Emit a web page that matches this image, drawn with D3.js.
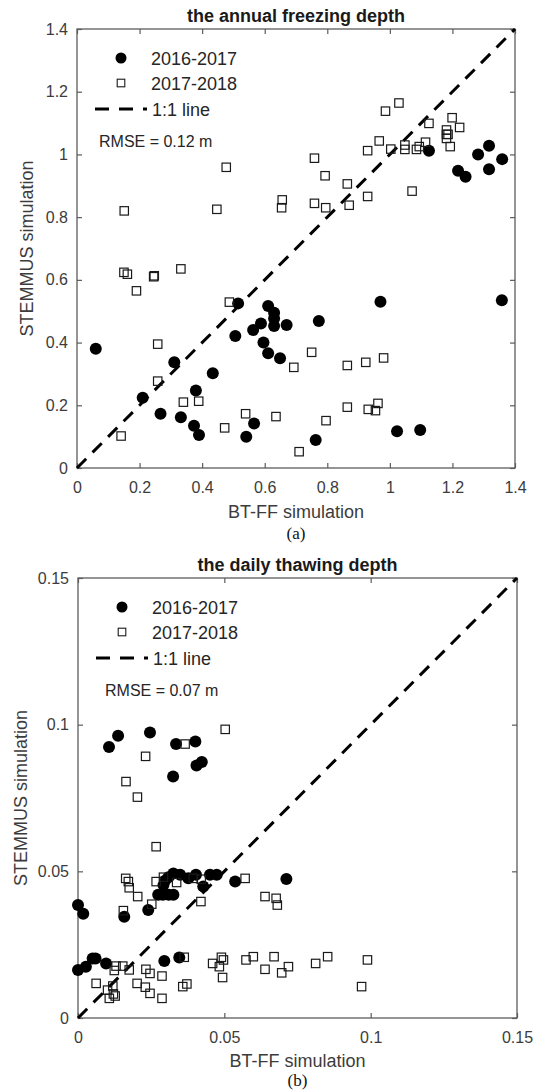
<!DOCTYPE html>
<html>
<head>
<meta charset="utf-8">
<script src="https://cdn.jsdelivr.net/npm/d3@7"></script>
<style>
body { margin: 0; background: #fff; }
text { font-family: "Liberation Sans", Arial, sans-serif; }
</style>
</head>
<body>
<div id="chart"></div>
<script>

// series names and texts
const seriesNames = ["2016-2017", "2017-2018", "1:1 line"];
const titles = ["the annual freezing depth", "the daily thawing depth"];
const rmseTexts = ["RMSE = 0.12 m", "RMSE = 0.07 m"];
const panelLetters = ["(a)", "(b)"];

// ticks
const freezeTicks = [0, 0.2, 0.4, 0.6, 0.8, 1, 1.2, 1.4];
const freezeTickLabels = ["0", "0.2", "0.4", "0.6", "0.8", "1", "1.2", "1.4"];
const thawTicks = [0, 0.05, 0.1, 0.15];
const thawTickLabels = ["0", "0.05", "0.1", "0.15"];

// (a) annual freezing depth, [BT-FF, STEMMUS]
const freeze2016 = [
    [0.06,0.38],[0.21,0.224],[0.267,0.173],[0.311,0.337],[0.332,0.162],[0.374,0.135],
    [0.38,0.247],[0.39,0.105],[0.434,0.302],[0.506,0.421],[0.515,0.525],[0.541,0.10],
    [0.563,0.44],[0.566,0.142],[0.588,0.461],[0.596,0.40],[0.611,0.517],[0.611,0.366],
    [0.63,0.495],[0.63,0.477],[0.63,0.453],[0.649,0.35],[0.67,0.456],[0.763,0.089],
    [0.773,0.469],[0.97,0.53],[1.023,0.117],[1.097,0.121],[1.125,1.012],[1.218,0.948],
    [1.242,0.929],[1.282,1.0],[1.317,1.028],[1.317,0.953],[1.359,0.985],[1.358,0.535]
];
const freeze2017 = [
    [0.141,0.102],[0.15,0.624],[0.151,0.82],[0.161,0.618],[0.19,0.565],[0.245,0.61],
    [0.247,0.613],[0.258,0.395],[0.258,0.277],[0.332,0.635],[0.34,0.21],[0.389,0.213],
    [0.447,0.825],[0.472,0.128],[0.477,0.959],[0.487,0.529],[0.539,0.173],[0.636,0.164],
    [0.654,0.83],[0.656,0.855],[0.693,0.321],[0.71,0.052],[0.75,0.369],[0.759,0.988],
    [0.759,0.844],[0.793,0.932],[0.795,0.83],[0.796,0.151],[0.864,0.906],[0.87,0.838],
    [0.864,0.327],[0.864,0.194],[0.923,0.337],[0.929,1.012],[0.929,0.866],[0.931,0.187],
    [0.954,0.183],[0.962,0.206],[0.966,1.043],[0.98,0.351],[0.986,1.138],[1.003,1.017],
    [1.029,1.164],[1.048,1.03],[1.048,1.016],[1.071,0.883],[1.085,1.016],[1.094,1.025],
    [1.114,1.039],[1.125,1.099],[1.181,1.078],[1.181,1.064],[1.186,1.064],[1.181,1.051],
    [1.193,1.025],[1.199,1.117],[1.223,1.086]
];

// (b) daily thawing depth, [BT-FF, STEMMUS]
const thaw2016 = [
    [0.0106,0.0924],[0.0137,0.0962],[0.0246,0.0973],[0.0325,0.0823],[0.0335,0.0934],
    [0.0401,0.0943],[0.0405,0.0861],[0.0423,0.0873],
    [0,0.0385],[0.0018,0.0355],[0.0158,0.0345],[0.024,0.0368],[0.0274,0.042],[0.029,0.042],
    [0.031,0.042],[0.0326,0.042],[0.0292,0.0453],[0.0297,0.0468],[0.0309,0.048],[0.0326,0.0493],
    [0.0349,0.0488],[0.0377,0.0476],[0.0403,0.0488],[0.0428,0.0448],[0.0451,0.0488],
    [0.0474,0.0488],[0.0537,0.0465],[0.0712,0.0474],
    [0,0.0164],[0.0027,0.0175],[0.005,0.0203],[0.006,0.0203],[0.0096,0.0186],
    [0.0295,0.0194],[0.0346,0.0206]
];
const thaw2017 = [
    [0.0164,0.0806],[0.0203,0.0753],[0.0231,0.0892],[0.0267,0.0584],[0.0366,0.0934],[0.0503,0.0984],
    [0.0155,0.0366],[0.0163,0.0476],[0.0172,0.0465],[0.0175,0.0444],[0.0204,0.0414],[0.0252,0.0388],
    [0.0267,0.0465],[0.0292,0.048],[0.0337,0.0462],[0.0394,0.0476],[0.0421,0.0473],[0.042,0.0397],
    [0.0571,0.0476],[0.0639,0.0414],[0.0677,0.0408],[0.0681,0.0385],
    [0.0062,0.0118],[0.0101,0.0095],[0.0107,0.0067],[0.0119,0.0109],[0.0121,0.0082],[0.0127,0.0075],
    [0.0124,0.0162],[0.013,0.0177],[0.0153,0.0177],[0.0175,0.0164],[0.0202,0.0118],[0.0232,0.0166],
    [0.023,0.0105],[0.0246,0.0152],[0.0246,0.0084],[0.0287,0.0143],[0.0287,0.0067],[0.0358,0.0107],
    [0.0372,0.0116],[0.0363,0.0207],[0.046,0.0186],[0.0483,0.0175],[0.049,0.0207],[0.0497,0.0198],
    [0.0494,0.0138],[0.0574,0.0198],[0.0599,0.0209],[0.0639,0.0166],[0.067,0.0209],[0.0696,0.0154],
    [0.0719,0.0175],[0.0812,0.0186],[0.0853,0.0209],[0.0989,0.0198],[0.0969,0.0107]
];

const width = 545;
const height = 1091;

const svg = d3.select("#chart")
    .append("svg")
    .attr("width", width)
    .attr("height", height);

const axisColor = "#5c5c5c";
const textColor = "#3c3c3c";

function drawPanel(p) {
    const xScale = d3.scaleLinear()
        .domain([0, p.max])
        .range([p.left, p.left + p.w]);
    const yScale = d3.scaleLinear()
        .domain([0, p.max])
        .range([p.top + p.h, p.top]);

    const g = svg.append("g");

    // box
    g.append("rect")
        .attr("x", p.left)
        .attr("y", p.top)
        .attr("width", p.w)
        .attr("height", p.h)
        .attr("fill", "none")
        .attr("stroke", axisColor)
        .attr("stroke-width", 1.3);

    const xAxis = g.append("g")
        .attr("transform", `translate(0,${p.top + p.h})`)
        .call(d3.axisBottom(xScale).tickValues(p.ticks).tickSize(-5).tickSizeOuter(0).tickPadding(14)
            .tickFormat(function(d, i) { return p.tickLabels[i]; }));
    const yAxis = g.append("g")
        .attr("transform", `translate(${p.left},0)`)
        .call(d3.axisLeft(yScale).tickValues(p.ticks).tickSize(-5).tickSizeOuter(0).tickPadding(9)
            .tickFormat(function(d, i) { return p.tickLabels[i]; }));
    const topAxis = g.append("g")
        .attr("transform", `translate(0,${p.top})`)
        .call(d3.axisTop(xScale).tickValues(p.ticks).tickSize(-5).tickSizeOuter(0).tickFormat(""));
    const rightAxis = g.append("g")
        .attr("transform", `translate(${p.left + p.w},0)`)
        .call(d3.axisRight(yScale).tickValues(p.ticks).tickSize(-5).tickSizeOuter(0).tickFormat(""));

    g.selectAll(".domain").remove();
    g.selectAll(".tick line").attr("stroke", axisColor).attr("stroke-width", 1.2);
    g.selectAll(".tick text")
        .attr("fill", textColor)
        .style("font-size", "16px")
        .style("font-family", "'Liberation Sans', Arial, sans-serif");

    // 1:1 line
    g.append("line")
        .attr("x1", xScale(0))
        .attr("y1", yScale(0))
        .attr("x2", xScale(p.max))
        .attr("y2", yScale(p.max))
        .attr("stroke", "#000")
        .attr("stroke-width", 3)
        .attr("stroke-dasharray", "13,9");

    // 2016-2017 filled circles
    g.selectAll("circle.s1")
        .data(p.s1)
        .enter()
        .append("circle")
            .attr("class", "s1")
            .attr("cx", function(d) { return xScale(d[0]); })
            .attr("cy", function(d) { return yScale(d[1]); })
            .attr("r", 6)
            .attr("fill", "#000");

    // 2017-2018 open squares
    g.selectAll("rect.s2")
        .data(p.s2)
        .enter()
        .append("rect")
            .attr("class", "s2")
            .attr("x", function(d) { return xScale(d[0]) - 4.2; })
            .attr("y", function(d) { return yScale(d[1]) - 4.2; })
            .attr("width", 8.4)
            .attr("height", 8.4)
            .attr("fill", "none")
            .attr("stroke", "#1a1a1a")
            .attr("stroke-width", 1.2);

    // title
    g.append("text")
        .attr("x", p.left + p.w / 2)
        .attr("y", p.top - 7.5)
        .attr("text-anchor", "middle")
        .attr("font-weight", "bold")
        .attr("font-size", 18)
        .attr("fill", "#1a1a1a")
        .text(p.title);

    // axis labels
    g.append("text")
        .attr("x", p.left + p.w / 2)
        .attr("y", p.top + p.h + p.xLabelDy)
        .attr("text-anchor", "middle")
        .attr("font-size", 18)
        .attr("fill", textColor)
        .text("BT-FF simulation");
    g.append("text")
        .attr("transform", `translate(${p.yLabelX},${p.top + p.h / 2}) rotate(-90)`)
        .attr("text-anchor", "middle")
        .attr("font-size", 18)
        .attr("fill", textColor)
        .text("STEMMUS simulation");

    g.append("text")
        .attr("x", p.left + p.w / 2)
        .attr("y", p.top + p.h + p.letterDy)
        .attr("text-anchor", "middle")
        .attr("font-size", 17)
        .style("font-family", "'Liberation Serif', 'Times New Roman', serif")
        .attr("fill", "#111")
        .text(p.letter);

    // legend
    const lx = p.left + 44;
    g.append("circle")
        .attr("cx", lx)
        .attr("cy", p.top + 29)
        .attr("r", 5.5)
        .attr("fill", "#000");
    g.append("rect")
        .attr("x", lx - 3.8)
        .attr("y", p.top + 54 - 3.8)
        .attr("width", 7.6)
        .attr("height", 7.6)
        .attr("fill", "none")
        .attr("stroke", "#1a1a1a")
        .attr("stroke-width", 1.1);
    g.append("line")
        .attr("x1", lx - 26)
        .attr("x2", lx + 26)
        .attr("y1", p.top + 80)
        .attr("y2", p.top + 80)
        .attr("stroke", "#000")
        .attr("stroke-width", 3)
        .attr("stroke-dasharray", "14,10");

    const legendText = g.selectAll("text.legend")
        .data(seriesNames)
        .enter()
        .append("text")
            .attr("class", "legend")
            .attr("x", function(d, i) { return lx + (i == 2 ? 31 : 30); })
            .attr("y", function(d, i) { return p.top + [36, 60.5, 86.5][i]; })
            .attr("font-size", 18)
            .attr("fill", "#262626")
            .text(function(d) { return d; });

    g.append("text")
        .attr("x", p.left + p.rmseDx)
        .attr("y", p.top + 118)
        .attr("font-size", 16)
        .attr("fill", "#262626")
        .text(p.rmse);
}

drawPanel({
    left: 77, top: 29, w: 438, h: 439, max: 1.4,
    ticks: freezeTicks, tickLabels: freezeTickLabels,
    s1: freeze2016, s2: freeze2017,
    title: titles[0], rmse: rmseTexts[0], letter: panelLetters[0],
    xLabelDy: 50, letterDy: 71, yLabelX: 33, rmseDx: 22
});

drawPanel({
    left: 78, top: 578, w: 439, h: 440, max: 0.15,
    ticks: thawTicks, tickLabels: thawTickLabels,
    s1: thaw2016, s2: thaw2017,
    title: titles[1], rmse: rmseTexts[1], letter: panelLetters[1],
    xLabelDy: 48.5, letterDy: 68, yLabelX: 27, rmseDx: 27
});

</script>
</body>
</html>
